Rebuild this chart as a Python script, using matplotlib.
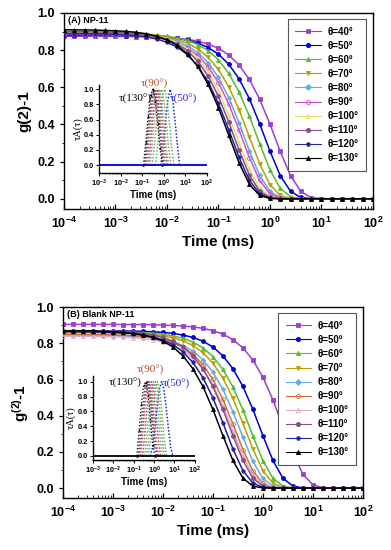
import numpy as np
import matplotlib
matplotlib.use('Agg')
import matplotlib.pyplot as plt
from matplotlib.ticker import LogLocator, MultipleLocator, NullFormatter, LogFormatterMathtext
from matplotlib.lines import Line2D

plt.rcParams.update({
    'font.family': ['Liberation Sans', 'DejaVu Sans'],
    'font.weight': 'bold',
    'mathtext.fontset': 'custom',
    'mathtext.rm': 'Liberation Sans',
    'mathtext.bf': 'Liberation Sans:bold',
    'mathtext.default': 'bf',
    'axes.linewidth': 1.0,
})

# ---- data ----
# shared time grid (ms), 0.2 decade steps from 1e-4 to 1e2
time_ms = 10 ** np.linspace(-4, 2, 31)

angles = [40, 50, 60, 70, 80, 90, 100, 110, 120, 130]

# (A) NP-11, g2-1 correlation curves
g2_a_40 = [.875, .875, .875, .875, .874, .874, .874, .873, .872, .871,
           .868, .864, .858, .848, .833, .810, .774, .720, .642, .536,
           .402, .255, .124, .040, .006, .001, 0, 0, 0, 0, 0]
g2_a_50 = [.88, .88, .88, .88, .879, .879, .878, .877, .876, .873,
           .869, .863, .853, .838, .814, .778, .724, .646, .539, .404,
           .257, .125, .040, .007, .001, 0, 0, 0, 0, 0, 0]
g2_a_60 = [.89, .89, .89, .889, .889, .888, .888, .886, .884, .880,
           .875, .866, .852, .830, .797, .748, .675, .575, .445, .297,
           .156, .056, .011, .001, 0, 0, 0, 0, 0, 0, 0]
g2_a_70 = [.89, .89, .889, .889, .889, .888, .887, .884, .881, .876,
           .868, .856, .837, .807, .762, .696, .603, .480, .334, .189,
           .076, .018, .002, 0, 0, 0, 0, 0, 0, 0, 0]
g2_a_80 = [.89, .89, .889, .889, .888, .887, .886, .883, .879, .873,
           .863, .847, .823, .787, .732, .653, .545, .409, .259, .126,
           .040, .007, .001, 0, 0, 0, 0, 0, 0, 0, 0]
g2_a_90 = [.885, .885, .884, .884, .883, .882, .880, .877, .873, .866,
           .855, .838, .811, .771, .711, .625, .510, .370, .222, .099,
           .027, .004, 0, 0, 0, 0, 0, 0, 0, 0, 0]
g2_a_100 = [.90, .899, .899, .898, .897, .896, .894, .890, .884, .876,
            .861, .840, .806, .756, .683, .581, .450, .300, .158, .057,
            .011, .001, 0, 0, 0, 0, 0, 0, 0, 0, 0]
g2_a_110 = [.90, .899, .899, .898, .897, .896, .893, .889, .883, .873,
            .857, .833, .796, .740, .660, .551, .413, .262, .128, .041,
            .007, .001, 0, 0, 0, 0, 0, 0, 0, 0, 0]
g2_a_120 = [.89, .889, .889, .888, .887, .885, .882, .878, .871, .860,
            .842, .816, .775, .715, .629, .513, .372, .223, .099, .028,
            .004, 0, 0, 0, 0, 0, 0, 0, 0, 0, 0]
g2_a_130 = [.91, .909, .909, .908, .906, .904, .901, .896, .888, .875,
            .855, .825, .779, .712, .616, .491, .342, .193, .078, .018,
            .002, 0, 0, 0, 0, 0, 0, 0, 0, 0, 0]

# (B) Blank NP-11
g2_b_40 = [.905, .905, .905, .905, .905, .905, .904, .904, .904, .903,
           .901, .899, .896, .891, .883, .870, .851, .821, .775, .708,
           .613, .488, .340, .192, .077, .018, .002, 0, 0, 0, 0]
g2_b_50 = [.87, .87, .87, .87, .869, .869, .868, .868, .866, .864,
           .861, .855, .846, .833, .812, .780, .731, .660, .562, .435,
           .290, .153, .055, .011, .001, 0, 0, 0, 0, 0, 0]
g2_b_60 = [.865, .865, .865, .864, .864, .864, .863, .861, .859, .856,
           .850, .841, .828, .807, .775, .727, .656, .559, .433, .288,
           .152, .055, .011, .001, 0, 0, 0, 0, 0, 0, 0]
g2_b_70 = [.86, .86, .86, .859, .859, .858, .857, .855, .853, .848,
           .841, .831, .814, .788, .749, .691, .608, .496, .359, .216,
           .096, .027, .004, 0, 0, 0, 0, 0, 0, 0, 0]
g2_b_80 = [.845, .845, .844, .844, .844, .843, .841, .839, .836, .830,
           .822, .809, .788, .757, .710, .641, .546, .423, .282, .148,
           .053, .011, .001, 0, 0, 0, 0, 0, 0, 0, 0]
g2_b_90 = [.85, .85, .849, .849, .848, .847, .845, .843, .838, .832,
           .821, .804, .779, .740, .683, .601, .490, .355, .213, .095,
           .026, .003, 0, 0, 0, 0, 0, 0, 0, 0, 0]
g2_b_100 = [.84, .84, .839, .839, .838, .837, .835, .832, .827, .820,
            .808, .790, .762, .719, .657, .569, .453, .316, .178, .072,
            .017, .002, 0, 0, 0, 0, 0, 0, 0, 0, 0]
g2_b_110 = [.870, .869, .869, .869, .868, .866, .864, .861, .855, .846,
            .833, .812, .780, .731, .660, .562, .435, .290, .153, .055,
            .011, .001, 0, 0, 0, 0, 0, 0, 0, 0, 0]
g2_b_120 = [.865, .864, .864, .863, .862, .860, .857, .853, .846, .836,
            .819, .793, .753, .695, .611, .499, .361, .217, .097, .027,
            .004, 0, 0, 0, 0, 0, 0, 0, 0, 0, 0]
g2_b_130 = [.869, .869, .869, .868, .866, .864, .861, .855, .846, .833,
            .812, .780, .731, .660, .562, .435, .290, .153, .055, .011,
            .001, 0, 0, 0, 0, 0, 0, 0, 0, 0, 0]

# inset: tau*A(tau) distributions, peak position (log10 ms) and values at 0.11 decade steps
dist_angles = [50, 60, 70, 80, 90, 100, 110, 120, 130]
peak_a = [0.30, 0.05, -0.10, -0.20, -0.27, -0.35, -0.40, -0.45, -0.50]
dist_a = [
    [0, .2, .55, .85, 1.0, .88, .6, .28, 0],
    [0, .25, .6, .9, 1.0, .85, .55, .2, 0],
    [0, .25, .6, .9, 1.0, .86, .56, .22, 0],
    [0, .28, .62, .9, 1.0, .85, .55, .2, 0],
    [0, .3, .65, .92, 1.0, .85, .55, .2, 0],
    [0, .28, .62, .9, 1.0, .86, .56, .22, 0],
    [0, .3, .65, .9, 1.0, .85, .55, .2, 0],
    [0, .3, .65, .92, 1.0, .85, .55, .22, 0],
    [0, .3, .65, .92, 1.0, .85, .55, .22, 0],
]
peak_b = [0.37, 0.17, 0.07, -0.02, -0.12, -0.22, -0.27, -0.33, -0.40]
dist_b = [
    [0, .12, .38, .66, .9, 1.0, .9, .66, .38, .12, 0],
    [0, .25, .6, .9, 1.0, .88, .58, .22, 0],
    [0, .25, .6, .9, 1.0, .88, .58, .22, 0],
    [0, .28, .62, .9, 1.0, .86, .55, .2, 0],
    [0, .3, .65, .92, 1.0, .85, .55, .2, 0],
    [0, .3, .65, .92, 1.0, .85, .55, .2, 0],
    [0, .3, .66, .92, 1.0, .84, .52, .18, 0],
    [0, .32, .68, .93, 1.0, .84, .52, .18, 0],
    [0, .35, .7, .95, 1.0, .82, .5, .15, 0],
]

labels = ['θ=%d°' % a for a in angles]

# styles
colors_a = ['#9b3fd6', '#0000d0', '#55bb33', '#b8a200', '#5fb0e0',
            '#d24fd2', '#e6df6a', '#8a4c8a', '#23239a', '#000000']
colors_b = ['#9b3fd6', '#0000d0', '#55bb33', '#c0a000', '#5fb0e0',
            '#d0702f', '#e0a8c8', '#8a4c8a', '#23239a', '#000000']
inset_colors = ['#9b3fd6', '#1f1fd0', '#45c060', '#c08a3a', '#40b8c8',
                '#c0502a', '#e05a9a', '#8a4c8a', '#555555', '#000000']
markers = ['s', 'o', '^', 'v', 'D', 'o', '^', 'o', 'p', '^']
open_marks = [False, False, False, False, False, True, True, False, False, False]


def draw_main(ax, curves, colors, tag, ylabel):
    for i, y in enumerate(curves):
        mfc = 'none' if open_marks[i] else colors[i]
        ax.plot(time_ms, y, color=colors[i], lw=1.1, marker=markers[i],
                ms=2.8 if markers[i] != 'D' else 2.2, mfc=mfc, mec=colors[i],
                mew=0.6, zorder=2 + i * 0.1)
    ax.set_xscale('log')
    ax.set_xlim(1e-4, 1e2)
    ax.set_ylim(-0.055, 1.0)
    ax.xaxis.set_major_locator(LogLocator(base=10, numticks=10))
    ax.xaxis.set_minor_locator(LogLocator(base=10, subs=np.arange(2, 10), numticks=20))
    ax.xaxis.set_minor_formatter(NullFormatter())
    ax.xaxis.set_major_formatter(LogFormatterMathtext())
    ax.yaxis.set_minor_locator(MultipleLocator(0.1))
    ax.set_yticks([0.0, 0.2, 0.4, 0.6, 0.8, 1.0])
    ax.set_yticklabels(['0.0', '0.2', '0.4', '0.6', '0.8', '1.0'])
    ax.tick_params(axis='x', which='major', direction='in', length=3.5, width=0.9, labelsize=9, pad=5)
    ax.tick_params(axis='x', which='minor', direction='in', length=2, width=0.6)
    ax.tick_params(axis='y', which='major', direction='out', length=3, width=0.9, labelsize=9)
    ax.tick_params(axis='y', which='minor', direction='out', length=1.8, width=0.6)
    ax.set_xlabel('Time (ms)', fontsize=11, fontweight='bold', labelpad=3)
    ax.set_ylabel(ylabel, fontsize=11, fontweight='bold', labelpad=4)
    ax.text(0.012, 0.985, tag, transform=ax.transAxes, fontsize=6.5,
            fontweight='bold', ha='left', va='top')

    handles = []
    for i in range(len(angles)):
        mfc = 'none' if open_marks[i] else colors[i]
        handles.append(Line2D([], [], color=colors[i], lw=0.8, marker=markers[i],
                              ms=3, mfc=mfc, mec=colors[i], mew=0.6))
    leg = ax.legend(handles, labels, loc='upper right', bbox_to_anchor=(0.993, 0.993),
                    frameon=True, fancybox=False, edgecolor='#555555',
                    framealpha=1, handlelength=2.6, handletextpad=0.7,
                    labelspacing=0.42, borderpad=0.75, numpoints=1,
                    prop={'weight': 'bold', 'size': 7})
    leg.get_frame().set_linewidth(0.8)


def draw_inset(ax, peaks, dists, base_color, ylim, tx):
    for j, a in enumerate(dist_angles):
        idx = angles.index(a)
        vals = dists[j]
        n = len(vals)
        xs = 10 ** (peaks[j] + 0.11 * (np.arange(n) - (n - 1) / 2))
        if a == 130:
            ax.plot(xs, vals, ls=':', lw=0.9, marker='^', ms=1.8, color=inset_colors[idx], mew=0)
        else:
            ax.plot(xs, vals, ls=(0, (1, 1.2)), lw=1.1, color=inset_colors[idx])
    ax.plot([1e-3, 1e2], [0, 0], color=base_color, lw=1.3)
    ax.set_xscale('log')
    ax.set_xlim(1e-3, 1e2)
    ax.set_ylim(*ylim)
    ax.spines['top'].set_visible(False)
    ax.spines['right'].set_visible(False)
    ax.patch.set_alpha(0)
    ax.xaxis.set_major_locator(LogLocator(base=10, numticks=10))
    ax.xaxis.set_minor_locator(LogLocator(base=10, subs=np.arange(2, 10), numticks=20))
    ax.xaxis.set_minor_formatter(NullFormatter())
    ax.xaxis.set_major_formatter(LogFormatterMathtext())
    ax.set_yticks([0.0, 0.2, 0.4, 0.6, 0.8, 1.0])
    ax.set_yticklabels(['0.0', '0.2', '0.4', '0.6', '0.8', '1.0'])
    ax.tick_params(axis='both', which='major', direction='out', length=2, width=0.7,
                   labelsize=5.3, pad=1.5)
    ax.tick_params(axis='x', which='minor', direction='out', length=1, width=0.5)
    ax.set_xlabel('Time (ms)', fontsize=7, fontweight='bold', labelpad=0.5)
    ax.set_ylabel('τA(τ)', fontsize=7.5, fontweight='normal', family='Liberation Serif', labelpad=1)
    # labels of the peaks
    (x130, y130), (x90, y90), (x50, y50) = tx
    ax.text(10 ** x130, y130, 'τ(130°)', family='Liberation Serif', fontsize=8,
            fontweight='normal', color='black', ha='right', va='center', clip_on=False)
    ax.text(10 ** x90, y90, 'τ(90°)', family='Liberation Serif', fontsize=8,
            fontweight='normal', color='#b5472a', ha='center', va='center', clip_on=False)
    ax.text(10 ** x50, y50, 'τ(50°)', family='Liberation Serif', fontsize=8,
            fontweight='normal', color='#2020d0', ha='left', va='center', clip_on=False)


fig = plt.figure(figsize=(3.91, 5.50), dpi=100)

ax_a = fig.add_axes([0.1637, 0.620, 0.790, 0.3564])
draw_main(ax_a, [g2_a_40, g2_a_50, g2_a_60, g2_a_70, g2_a_80,
                 g2_a_90, g2_a_100, g2_a_110, g2_a_120, g2_a_130],
          colors_a, '(A) NP-11', 'g(2)-1')

ax_b = fig.add_axes([0.161, 0.0945, 0.767, 0.347])
draw_main(ax_b, [g2_b_40, g2_b_50, g2_b_60, g2_b_70, g2_b_80,
                 g2_b_90, g2_b_100, g2_b_110, g2_b_120, g2_b_130],
          colors_b, '(B) Blank NP-11', 'g$^{(2)}$-1')

in_a = fig.add_axes([0.253, 0.686, 0.276, 0.160])
draw_inset(in_a, peak_a, dist_a, '#0000d0', (-0.1, 1.06),
           [(-0.55, 0.87), (-0.41, 1.07), (0.29, 0.87)])

in_b = fig.add_axes([0.237, 0.1642, 0.2616, 0.1513])
draw_inset(in_b, peak_b, dist_b, '#000000', (-0.05, 1.07),
           [(-0.59, 0.98), (-0.2, 1.16), (0.44, 0.97)])

fig.savefig('out.png', dpi=100)
